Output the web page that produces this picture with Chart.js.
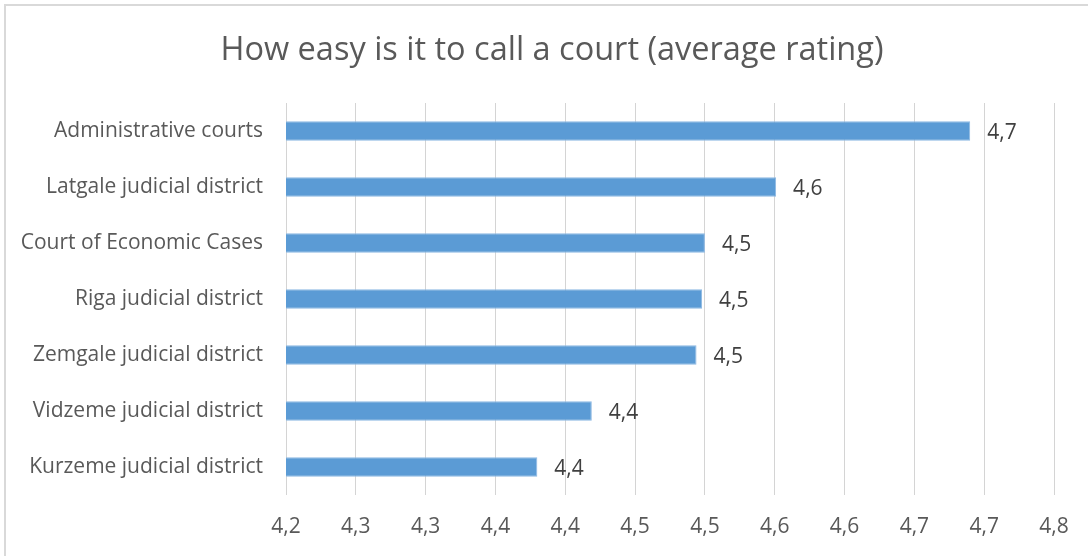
<!DOCTYPE html>
<html>
<head>
<meta charset="utf-8">
<script src="https://cdn.jsdelivr.net/npm/chart.js@4.4.1/dist/chart.umd.min.js"></script>
<style>
  html, body { margin: 0; padding: 0; background: #fff; }
  #wrap { position: relative; width: 1088px; height: 556px; overflow: hidden; }
  #frame { position: absolute; left: 4px; top: 4px; width: 1200px; height: 700px;
           border-left: 2px solid #d9d9d9; border-top: 2px solid #d9d9d9; }
  canvas { position: absolute; left: 0; top: 0; }
</style>
</head>
<body>
<div id="wrap">
  <div id="frame"></div>
  <canvas id="court-chart" width="1088" height="556"></canvas>
</div>
<script>
const categories = [
    'Administrative courts',
    'Latgale judicial district',
    'Court of Economic Cases',
    'Riga judicial district',
    'Zemgale judicial district',
    'Vidzeme judicial district',
    'Kurzeme judicial district'
];
const ratings = [4.69, 4.551, 4.50, 4.498, 4.494, 4.419, 4.38];
const axisMin = 4.2;
const axisMax = 4.75;
const axisStep = 0.05;

const titleText = 'How easy is it to call a court (average rating)';
const fontFamily = "'Open Sans', 'Noto Sans', sans-serif";

// excel style: one decimal, comma separator
function fmt(v) {
    const r = Math.round(v * 10 + 1e-6) / 10;
    return r.toFixed(1).replace('.', ',');
}

const titlePlugin = {
    id: 'drawTitle',
    afterDraw(chart) {
        const ctx = chart.ctx;
        ctx.save();
        ctx.font = '32.5px ' + fontFamily;
        ctx.fillStyle = '#595959';
        ctx.textAlign = 'center';
        ctx.textBaseline = 'alphabetic';
        ctx.fillText(titleText, 552, 60);
        ctx.restore();
    }
};

const valueLabels = {
    id: 'valueLabels',
    afterDatasetsDraw(chart) {
        const ctx = chart.ctx;
        const meta = chart.getDatasetMeta(0);
        ctx.save();
        ctx.font = '21px ' + fontFamily;
        ctx.fillStyle = '#404040';
        ctx.textAlign = 'left';
        ctx.textBaseline = 'middle';
        meta.data.forEach((bar, i) => {
            ctx.fillText(fmt(ratings[i]), bar.x + 17, bar.y + 2);
        });
        ctx.restore();
    }
};

const ctx = document.getElementById('court-chart').getContext('2d');
const courtChart = new Chart(ctx, {
    type: 'bar',
    data: {
        labels: categories,
        datasets: [{
            label: 'Average rating',
            data: ratings,
            backgroundColor: '#5b9bd5',
            borderColor: '#8db8e2',
            borderWidth: 1,
            borderSkipped: 'start',
            barPercentage: 0.7,
            categoryPercentage: 0.5
        }]
    },
    options: {
        indexAxis: 'y',
        responsive: false,
        animation: false,
        layout: { padding: { top: 103, right: 34, bottom: 0, left: 0 } },
        plugins: {
            legend: { display: false },
            title: { display: false },
            tooltip: { enabled: false }
        },
        scales: {
            x: {
                type: 'linear',
                min: axisMin,
                max: axisMax,
                afterFit: s => { s.height = 61; },
                grid: { color: '#d4d4d4', lineWidth: 1, drawTicks: false },
                border: { display: false },
                ticks: {
                    stepSize: axisStep,
                    padding: 19,
                    color: '#595959',
                    font: { family: fontFamily, size: 21 },
                    callback: v => fmt(v)
                }
            },
            y: {
                afterFit: s => { s.width = 286; },
                grid: { display: false, drawTicks: false },
                border: { display: false },
                ticks: {
                    padding: 23,
                    color: '#595959',
                    font: { family: fontFamily, size: 21 }
                }
            }
        }
    },
    plugins: [titlePlugin, valueLabels]
});
</script>
</body>
</html>
